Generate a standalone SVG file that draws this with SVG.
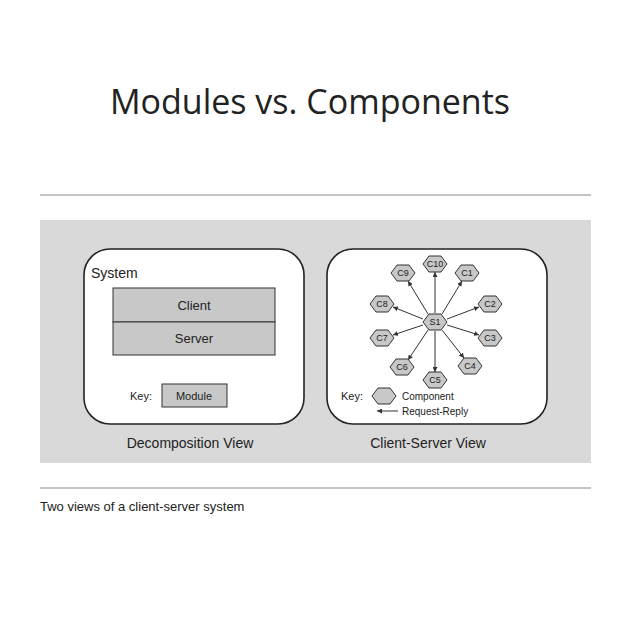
<svg xmlns="http://www.w3.org/2000/svg" width="638" height="638" viewBox="0 0 638 638">
<style>
text{font-family:"Liberation Sans",Arial,sans-serif;fill:#222}
.hex{fill:#c8c8c8;stroke:#333;stroke-width:1}
.ht{font-size:9px;text-anchor:middle}
.ln{stroke:#333;stroke-width:1;fill:none}
.box{fill:#fff;stroke:#222;stroke-width:1.6}
.mod{fill:#c8c8c8;stroke:#333;stroke-width:1}
</style>
<defs>
<marker id="ah" viewBox="0 0 6 6" refX="6" refY="3" markerWidth="5" markerHeight="5" orient="auto-start-reverse"><path d="M0,0 L6,3 L0,6z" fill="#333"/></marker>
<path id="hx" d="M-12,0 L-6,-8 L6,-8 L12,0 L6,8 L-6,8z"/>
</defs>
<rect width="638" height="638" fill="#fff"/>
<text x="310" y="114" font-size="34" text-anchor="middle" style="font-family:'Open Sans','Liberation Sans',sans-serif">Modules vs. Components</text>
<line x1="40" y1="195" x2="591" y2="195" stroke="#888"/>
<rect x="40" y="220" width="551" height="243" fill="#d9d9d9"/>
<line x1="40" y1="488" x2="591" y2="488" stroke="#888"/>
<text x="40" y="511" font-size="13">Two views of a client-server system</text>

<g id="decomposition">
<rect class="box" x="84" y="249" width="220" height="175" rx="26"/>
<text x="91" y="278" font-size="14">System</text>
<g id="client"><rect class="mod" x="113" y="288" width="162" height="34"/><text x="194" y="310" font-size="13" text-anchor="middle">Client</text></g>
<g id="server"><rect class="mod" x="113" y="322" width="162" height="33"/><text x="194" y="343" font-size="13" text-anchor="middle">Server</text></g>
<text x="130" y="400" font-size="11">Key:</text>
<rect class="mod" x="162" y="384" width="65" height="23"/>
<text x="194" y="400" font-size="11" text-anchor="middle">Module</text>
<text x="190" y="448" font-size="14" text-anchor="middle">Decomposition View</text>
</g>

<g id="clientserver">
<rect class="box" x="327" y="249" width="220" height="175" rx="26"/>
<g id="connectors">
<line class="ln" marker-start="url(#ah)" x1="435" y1="272" x2="435" y2="313"/>
<line class="ln" marker-start="url(#ah)" x1="408" y1="281" x2="428" y2="314"/>
<line class="ln" marker-start="url(#ah)" x1="462" y1="281" x2="442" y2="314"/>
<line class="ln" marker-start="url(#ah)" x1="393" y1="307" x2="423" y2="319"/>
<line class="ln" marker-start="url(#ah)" x1="479" y1="307" x2="447" y2="319"/>
<line class="ln" marker-start="url(#ah)" x1="393" y1="335" x2="423" y2="325"/>
<line class="ln" marker-start="url(#ah)" x1="479" y1="335" x2="447" y2="325"/>
<line class="ln" marker-start="url(#ah)" x1="408" y1="360" x2="428" y2="330"/>
<line class="ln" marker-start="url(#ah)" x1="464" y1="358" x2="442" y2="330"/>
<line class="ln" marker-start="url(#ah)" x1="435" y1="372" x2="435" y2="331"/>
</g>
<g id="S1"><use href="#hx" class="hex" x="435" y="322"/><text class="ht" x="435" y="325">S1</text></g>
<g id="C10"><use href="#hx" class="hex" x="435" y="264"/><text class="ht" x="435" y="267">C10</text></g>
<g id="C9"><use href="#hx" class="hex" x="403" y="273"/><text class="ht" x="403" y="276">C9</text></g>
<g id="C1"><use href="#hx" class="hex" x="467" y="273"/><text class="ht" x="467" y="276">C1</text></g>
<g id="C8"><use href="#hx" class="hex" x="382" y="304"/><text class="ht" x="382" y="307">C8</text></g>
<g id="C2"><use href="#hx" class="hex" x="490" y="304"/><text class="ht" x="490" y="307">C2</text></g>
<g id="C7"><use href="#hx" class="hex" x="382" y="338"/><text class="ht" x="382" y="341">C7</text></g>
<g id="C3"><use href="#hx" class="hex" x="490" y="338"/><text class="ht" x="490" y="341">C3</text></g>
<g id="C6"><use href="#hx" class="hex" x="402" y="367"/><text class="ht" x="402" y="370">C6</text></g>
<g id="C4"><use href="#hx" class="hex" x="470" y="366"/><text class="ht" x="470" y="369">C4</text></g>
<g id="C5"><use href="#hx" class="hex" x="435" y="380"/><text class="ht" x="435" y="383">C5</text></g>
<text x="341" y="400" font-size="11">Key:</text>
<use href="#hx" class="hex" x="384" y="396"/>
<text x="402" y="400" font-size="10">Component</text>
<line class="ln" marker-start="url(#ah)" x1="377" y1="411" x2="398" y2="411"/>
<text x="402" y="415" font-size="10">Request-Reply</text>
<text x="428" y="448" font-size="14" text-anchor="middle">Client-Server View</text>
</g>
</svg>
